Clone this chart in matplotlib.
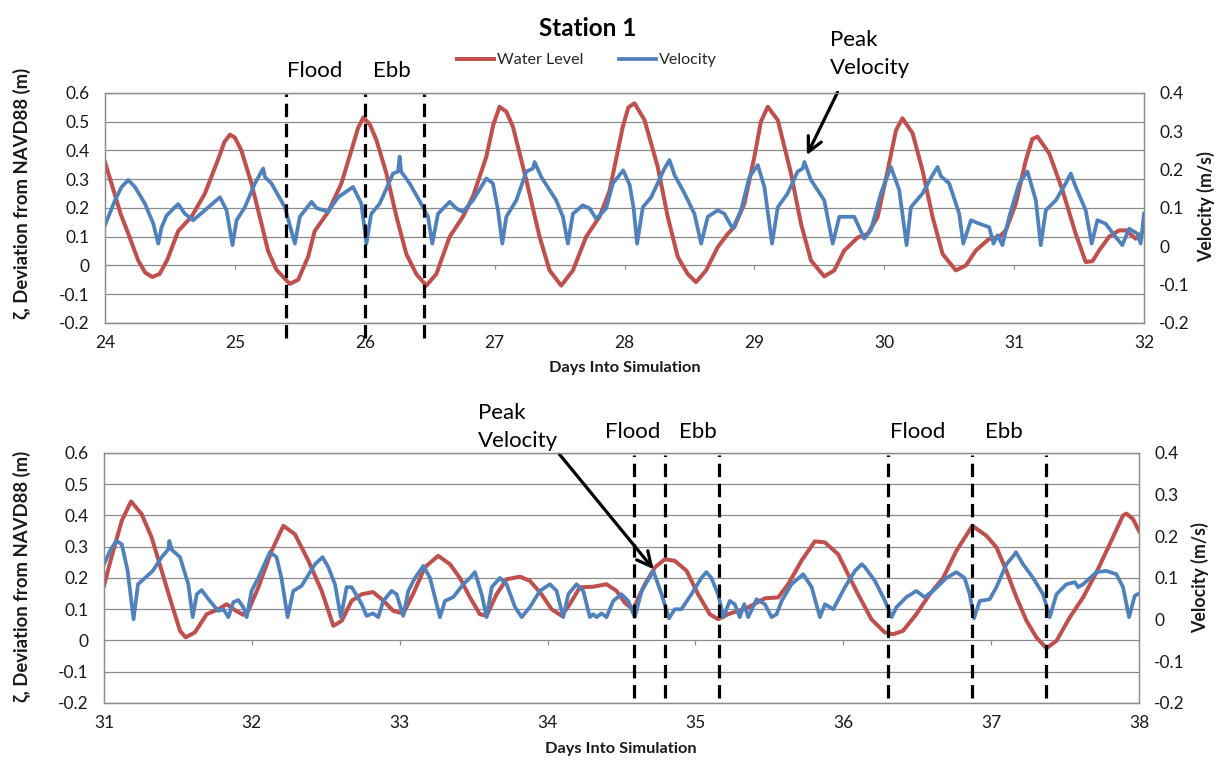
import matplotlib
matplotlib.use("Agg")
import matplotlib.pyplot as plt

plt.rcParams['font.family'] = ['Lato', 'DejaVu Sans']

# ---------------- data ----------------
# Top panel: days 24-32
wl_top_days = [24.0, 24.06, 24.12, 24.18, 24.256, 24.31, 24.364, 24.42, 24.48, 24.564, 24.667,
               24.769, 24.872, 24.92, 24.962, 25.0, 25.05, 25.128, 25.205, 25.256, 25.32, 25.423,
               25.487, 25.564, 25.615, 25.718, 25.82, 25.897, 25.95, 25.99, 26.04, 26.09, 26.167,
               26.244, 26.32, 26.397, 26.474, 26.551, 26.654, 26.756, 26.833, 26.936, 26.99,
               27.038, 27.09, 27.141, 27.244, 27.346, 27.423, 27.513, 27.603, 27.705, 27.808,
               27.885, 27.987, 28.03, 28.077, 28.154, 28.256, 28.333, 28.41, 28.487, 28.551,
               28.628, 28.718, 28.795, 28.846, 28.923, 29.0, 29.05, 29.103, 29.18, 29.282,
               29.359, 29.436, 29.538, 29.615, 29.692, 29.795, 29.872, 29.949, 30.026, 30.09,
               30.14, 30.218, 30.295, 30.372, 30.449, 30.551, 30.628, 30.705, 30.808, 30.885,
               30.936, 31.013, 31.09, 31.14, 31.18, 31.27, 31.372, 31.474, 31.551, 31.603,
               31.654, 31.731, 31.808, 31.86, 31.936, 32.0]
wl_top = [0.36, 0.27, 0.18, 0.11, 0.017, -0.025, -0.04, -0.03, 0.02, 0.12, 0.17,
          0.25, 0.37, 0.43, 0.455, 0.445, 0.40, 0.285, 0.145, 0.05, -0.015, -0.064,
          -0.05, 0.03, 0.12, 0.186, 0.285, 0.40, 0.48, 0.515, 0.49, 0.436, 0.32,
          0.17, 0.04, -0.03, -0.07, -0.03, 0.10, 0.17, 0.24, 0.378, 0.49,
          0.552, 0.535, 0.483, 0.297, 0.10, -0.017, -0.07, -0.017, 0.10, 0.17,
          0.26, 0.483, 0.55, 0.564, 0.506, 0.343, 0.169, 0.03, -0.03, -0.058,
          -0.017, 0.064, 0.11, 0.134, 0.215, 0.378, 0.50, 0.552, 0.506, 0.32,
          0.145, 0.017, -0.038, -0.017, 0.052, 0.097, 0.11, 0.169, 0.33, 0.47,
          0.512, 0.46, 0.33, 0.169, 0.04, -0.017, 0.0, 0.052, 0.093, 0.099,
          0.122, 0.215, 0.366, 0.44, 0.448, 0.39, 0.262, 0.11, 0.012, 0.015,
          0.052, 0.1, 0.122, 0.122, 0.093, 0.12]

vel_top_days = [24.0, 24.077, 24.128, 24.18, 24.23, 24.308, 24.372, 24.41, 24.436, 24.474, 24.538,
                24.564, 24.615, 24.679, 24.769, 24.885, 24.936, 24.982, 25.013, 25.077, 25.154,
                25.218, 25.231, 25.282, 25.385, 25.462, 25.5, 25.59, 25.628, 25.718, 25.795,
                25.91, 25.974, 26.013, 26.05, 26.115, 26.218, 26.256, 26.269, 26.28, 26.346,
                26.449, 26.487, 26.52, 26.564, 26.654, 26.705, 26.756, 26.833, 26.936, 26.987,
                27.026, 27.059, 27.09, 27.167, 27.244, 27.295, 27.308, 27.359, 27.474, 27.526,
                27.564, 27.603, 27.679, 27.731, 27.782, 27.859, 27.91, 27.99, 28.04, 28.07,
                28.097, 28.141, 28.205, 28.308, 28.346, 28.385, 28.462, 28.538, 28.59, 28.641,
                28.718, 28.769, 28.833, 28.897, 28.962, 29.026, 29.077, 29.136, 29.18, 29.256,
                29.333, 29.372, 29.385, 29.436, 29.538, 29.603, 29.654, 29.769, 29.846, 29.897,
                29.974, 30.051, 30.115, 30.172, 30.205, 30.295, 30.372, 30.41, 30.436, 30.5,
                30.577, 30.608, 30.667, 30.731, 30.808, 30.841, 30.872, 30.91, 30.962, 31.038,
                31.103, 31.167, 31.205, 31.244, 31.321, 31.397, 31.436, 31.474, 31.551, 31.597,
                31.641, 31.705, 31.782, 31.833, 31.885, 31.949, 31.974, 32.0]
vel_top = [0.055, 0.120, 0.155, 0.173, 0.155, 0.111, 0.059, 0.007, 0.050, 0.080, 0.102,
           0.110, 0.085, 0.068, 0.094, 0.128, 0.094, 0.003, 0.068, 0.102, 0.164,
           0.203, 0.181, 0.164, 0.102, 0.007, 0.077, 0.116, 0.100, 0.090, 0.128,
           0.155, 0.111, 0.007, 0.085, 0.111, 0.190, 0.195, 0.234, 0.195, 0.164,
           0.102, 0.077, 0.007, 0.085, 0.116, 0.099, 0.090, 0.120, 0.177, 0.164,
           0.094, 0.007, 0.077, 0.120, 0.195, 0.203, 0.220, 0.181, 0.120, 0.077,
           0.007, 0.085, 0.107, 0.099, 0.072, 0.099, 0.164, 0.198, 0.160, 0.100,
           0.007, 0.102, 0.128, 0.203, 0.225, 0.186, 0.138, 0.085, 0.007, 0.077,
           0.094, 0.085, 0.046, 0.094, 0.181, 0.212, 0.155, 0.007, 0.102, 0.138,
           0.195, 0.203, 0.220, 0.173, 0.120, 0.007, 0.077, 0.077, 0.020, 0.042,
           0.138, 0.207, 0.147, 0.003, 0.102, 0.138, 0.186, 0.207, 0.183, 0.164,
           0.085, 0.007, 0.068, 0.059, 0.050, 0.007, 0.029, 0.003, 0.077, 0.164,
           0.195, 0.120, 0.003, 0.094, 0.120, 0.164, 0.190, 0.155, 0.094, 0.007,
           0.068, 0.059, 0.024, 0.003, 0.046, 0.033, 0.007, 0.085]

# Bottom panel: days 31-38
wl_bot_days = [31.0, 31.05, 31.12, 31.183, 31.255, 31.322, 31.39, 31.458, 31.514, 31.552, 31.615,
               31.694, 31.773, 31.83, 31.886, 31.942, 31.976, 32.044, 32.134, 32.213, 32.291,
               32.382, 32.472, 32.551, 32.608, 32.675, 32.743, 32.82, 32.89, 32.956, 33.024,
               33.09, 33.17, 33.26, 33.34, 33.407, 33.475, 33.542, 33.588, 33.655, 33.723,
               33.813, 33.88, 33.959, 34.027, 34.095, 34.15, 34.218, 34.308, 34.398, 34.466,
               34.523, 34.579, 34.658, 34.726, 34.793, 34.86, 34.94, 35.018, 35.097, 35.154,
               35.22, 35.29, 35.357, 35.47, 35.56, 35.627, 35.717, 35.807, 35.875, 35.965,
               36.032, 36.1, 36.19, 36.28, 36.337, 36.404, 36.494, 36.584, 36.675, 36.765,
               36.873, 36.968, 37.036, 37.103, 37.171, 37.239, 37.306, 37.374, 37.442, 37.532,
               37.622, 37.712, 37.802, 37.892, 37.915, 37.96, 38.0]
wl_bot = [0.175, 0.266, 0.383, 0.445, 0.404, 0.33, 0.223, 0.116, 0.031, 0.01, 0.026,
          0.084, 0.1, 0.116, 0.097, 0.082, 0.095, 0.17, 0.287, 0.367, 0.34,
          0.255, 0.159, 0.047, 0.063, 0.127, 0.148, 0.155, 0.127, 0.095, 0.086,
          0.148, 0.234, 0.271, 0.244, 0.2, 0.138, 0.084, 0.079, 0.148, 0.196,
          0.204, 0.191, 0.148, 0.1, 0.079, 0.116, 0.17, 0.172, 0.18, 0.159,
          0.12, 0.1, 0.18, 0.234, 0.26, 0.255, 0.223, 0.148, 0.084, 0.068,
          0.084, 0.095, 0.106, 0.135, 0.138, 0.18, 0.255, 0.317, 0.314, 0.276,
          0.212, 0.148, 0.068, 0.026, 0.02, 0.031, 0.084, 0.148, 0.2, 0.287,
          0.367, 0.335, 0.298, 0.223, 0.138, 0.063, 0.01, -0.025, -0.001, 0.074,
          0.138, 0.218, 0.308, 0.4, 0.406, 0.388, 0.35]

vel_bot_days = [31.0, 31.04, 31.083, 31.12, 31.16, 31.2, 31.23, 31.277, 31.33, 31.39, 31.435,
                31.442, 31.458, 31.514, 31.57, 31.6, 31.627, 31.66, 31.716, 31.773, 31.807,
                31.841, 31.875, 31.908, 31.942, 31.965, 31.998, 32.043, 32.122, 32.167, 32.2,
                32.242, 32.28, 32.336, 32.427, 32.478, 32.517, 32.562, 32.602, 32.641, 32.675,
                32.743, 32.776, 32.82, 32.855, 32.889, 32.945, 32.979, 33.024, 33.058, 33.103,
                33.16, 33.205, 33.272, 33.306, 33.362, 33.43, 33.475, 33.509, 33.554, 33.588,
                33.622, 33.678, 33.723, 33.78, 33.825, 33.88, 33.948, 34.016, 34.061, 34.106,
                34.14, 34.196, 34.241, 34.286, 34.309, 34.331, 34.365, 34.399, 34.444, 34.5,
                34.545, 34.59, 34.636, 34.715, 34.771, 34.821, 34.86, 34.905, 34.973, 35.04,
                35.074, 35.108, 35.153, 35.19, 35.232, 35.266, 35.3, 35.33, 35.357, 35.413,
                35.47, 35.515, 35.549, 35.583, 35.65, 35.729, 35.786, 35.842, 35.876, 35.932,
                36.011, 36.079, 36.124, 36.146, 36.214, 36.282, 36.327, 36.36, 36.427, 36.494,
                36.55, 36.607, 36.697, 36.765, 36.82, 36.855, 36.884, 36.923, 36.99, 37.036,
                37.103, 37.16, 37.167, 37.216, 37.284, 37.351, 37.396, 37.442, 37.509, 37.566,
                37.588, 37.622, 37.712, 37.78, 37.847, 37.892, 37.933, 37.971, 38.0]
vel_bot = [0.133, 0.165, 0.189, 0.181, 0.117, 0.001, 0.085, 0.100, 0.117, 0.150, 0.169,
           0.189, 0.168, 0.150, 0.085, 0.006, 0.061, 0.071, 0.045, 0.021, 0.025,
           0.006, 0.042, 0.047, 0.030, 0.006, 0.069, 0.100, 0.162, 0.150, 0.100,
           0.006, 0.069, 0.081, 0.133, 0.150, 0.126, 0.085, 0.006, 0.078, 0.078,
           0.037, 0.009, 0.015, 0.006, 0.045, 0.069, 0.061, 0.009, 0.069, 0.100,
           0.129, 0.100, 0.006, 0.045, 0.054, 0.085, 0.100, 0.114, 0.061, 0.006,
           0.078, 0.100, 0.085, 0.030, 0.006, 0.030, 0.069, 0.085, 0.069, 0.006,
           0.061, 0.085, 0.069, 0.006, 0.013, 0.006, 0.015, 0.006, 0.045, 0.061,
           0.045, 0.006, 0.069, 0.117, 0.061, 0.003, 0.025, 0.025, 0.061, 0.100,
           0.114, 0.100, 0.061, 0.006, 0.045, 0.037, 0.006, 0.037, 0.006, 0.049,
           0.037, 0.006, 0.013, 0.045, 0.085, 0.109, 0.078, 0.006, 0.037, 0.025,
           0.078, 0.117, 0.133, 0.126, 0.093, 0.045, 0.006, 0.030, 0.054, 0.069,
           0.054, 0.069, 0.100, 0.114, 0.100, 0.061, 0.003, 0.045, 0.049, 0.078,
           0.133, 0.157, 0.162, 0.133, 0.100, 0.061, 0.006, 0.061, 0.085, 0.090,
           0.078, 0.085, 0.114, 0.117, 0.109, 0.078, 0.006, 0.057, 0.063]

# tide-phase markers (days)
phase_top = [25.39, 26.0, 26.455]
phase_bot = [34.583, 34.793, 35.157, 36.30, 36.873, 37.372]

zeta_ticks = [-0.2, -0.1, 0, 0.1, 0.2, 0.3, 0.4, 0.5, 0.6]
zeta_labels = ['-0.2', '-0.1', '0', '0.1', '0.2', '0.3', '0.4', '0.5', '0.6']
vel_ticks = [-0.2, -0.1, 0, 0.1, 0.2, 0.3, 0.4]
vel_labels = ['-0.2', '-0.1', '0', '0.1', '0.2', '0.3', '0.4']
xticks_top = [24, 25, 26, 27, 28, 29, 30, 31, 32]
xticks_bot = [31, 32, 33, 34, 35, 36, 37, 38]

# ---------------- styling ----------------
RED = '#C0504D'
BLUE = '#4F81BD'
GRID = '#8C8C8C'
TXT = '#1a1a1a'
TICK_FS = 12.5

fig = plt.figure(figsize=(12.25, 7.71), dpi=100)


def panel(rect, xlim, xticks, wl_d, wl, v_d, v, phases, dash_ymin, dash_ymax, tick_len):
    ax = fig.add_axes(rect)
    ax.set_xlim(*xlim)
    ax.set_ylim(-0.2, 0.6)
    ax.set_yticks(zeta_ticks)
    ax.set_yticklabels(zeta_labels)
    ax.set_xticks(xticks)
    ax.set_xticklabels([str(t) for t in xticks])
    ax.grid(axis='y', color=GRID, lw=0.9)
    ax.grid(axis='x', visible=False)
    ax.set_axisbelow(True)
    for s in ax.spines.values():
        s.set_color(GRID)
        s.set_linewidth(0.9)
    ax.tick_params(axis='both', length=0, labelsize=TICK_FS, colors=TXT)
    ax.tick_params(axis='y', pad=11)
    ax.tick_params(axis='x', pad=9)
    ax.vlines(xticks, -tick_len, 0, color=GRID, lw=0.9)
    ln1, = ax.plot(wl_d, wl, color=RED, lw=2.9, solid_joinstyle='round')

    ax2 = ax.twinx()
    ax2.set_ylim(-0.2, 0.4)
    ax2.set_yticks(vel_ticks)
    ax2.set_yticklabels(vel_labels)
    for s in ax2.spines.values():
        s.set_color(GRID)
        s.set_linewidth(0.9)
    ax2.tick_params(axis='y', length=0, labelsize=TICK_FS, colors=TXT, pad=11)
    ln2, = ax2.plot(v_d, v, color=BLUE, lw=2.7, solid_joinstyle='round')
    for d in phases:
        ax2.axvline(d, ymin=dash_ymin, ymax=dash_ymax, color='black', lw=2.3,
                    ls=(0, (4.2, 2.1)), clip_on=False)

    ax.set_xlabel('Days Into Simulation', fontsize=11.8, fontweight='bold', color=TXT)
    ax.set_ylabel('ζ, Deviation from NAVD88 (m)', fontsize=13.3, fontweight='bold', color=TXT)
    ax2.set_ylabel('Velocity (m/s)', fontsize=12.8, fontweight='bold', color=TXT)
    ax.xaxis.label.set_verticalalignment('center')
    ax.yaxis.label.set_verticalalignment('center')
    ax2.yaxis.label.set_verticalalignment('center')
    return ax, ax2, ln1, ln2


# top panel
axT, axT2, l1, l2 = panel([0.0857, 0.5811, 0.8482, 0.2983], (24, 32), xticks_top,
                          wl_top_days, wl_top, vel_top_days, vel_top,
                          phase_top, -0.065, 0.995, 0.014)
axT.xaxis.set_label_coords(0.5005, -0.196)
axT.yaxis.set_label_coords(-0.080, 0.565)
axT2.yaxis.set_label_coords(1.0597, 0.504)

# bottom panel
axB, axB2, _, _ = panel([0.0849, 0.0882, 0.8449, 0.3243], (31, 38), xticks_bot,
                        wl_bot_days, wl_bot, vel_bot_days, vel_bot,
                        phase_bot, 0.02, 0.992, 0.013)
axB.xaxis.set_label_coords(0.4995, -0.184)
axB.yaxis.set_label_coords(-0.0795, 0.508)
axB2.yaxis.set_label_coords(1.059, 0.50)

# title and legend
fig.text(0.480, 1 - 29 / 771, 'Station 1', fontsize=17.5, fontweight='bold',
         ha='center', va='center', color='black')
leg = fig.legend([l1, l2], ['Water Level', 'Velocity'], loc='center',
                 bbox_to_anchor=(0.479, 1 - 60 / 771), ncol=2, frameon=False,
                 fontsize=11.6, handlelength=2.3, handletextpad=0.2, columnspacing=2.2)
for t in leg.get_texts():
    t.set_color('#262626')

# annotations - top
ann_kw = dict(fontsize=16, color='black', clip_on=False)
axT.text(25.615, 0.676, 'Flood', ha='center', va='center', **ann_kw)
axT.text(26.208, 0.676, 'Ebb', ha='center', va='center', **ann_kw)
axT.text(29.585, 0.734, 'Peak\nVelocity', ha='left', va='center', linespacing=1.5, **ann_kw)
axT.annotate('', xy=(29.404, 0.384), xytext=(29.64, 0.602),
             arrowprops=dict(arrowstyle='->', color='black', lw=2.3,
                             mutation_scale=26, shrinkA=0, shrinkB=0),
             annotation_clip=False)

# annotations - bottom
axB.text(34.573, 0.6656, 'Flood', ha='center', va='center', **ann_kw)
axB.text(35.014, 0.6656, 'Ebb', ha='center', va='center', **ann_kw)
axB.text(36.504, 0.6656, 'Flood', ha='center', va='center', **ann_kw)
axB.text(37.085, 0.6656, 'Ebb', ha='center', va='center', **ann_kw)
axB.text(33.532, 0.6835, 'Peak\nVelocity', ha='left', va='center', linespacing=1.5, **ann_kw)
axB.annotate('', xy=(34.717, 0.228), xytext=(34.08, 0.596),
             arrowprops=dict(arrowstyle='->', color='black', lw=2.3,
                             mutation_scale=26, shrinkA=0, shrinkB=0),
             annotation_clip=False)

fig.savefig('out.png', dpi=100)
